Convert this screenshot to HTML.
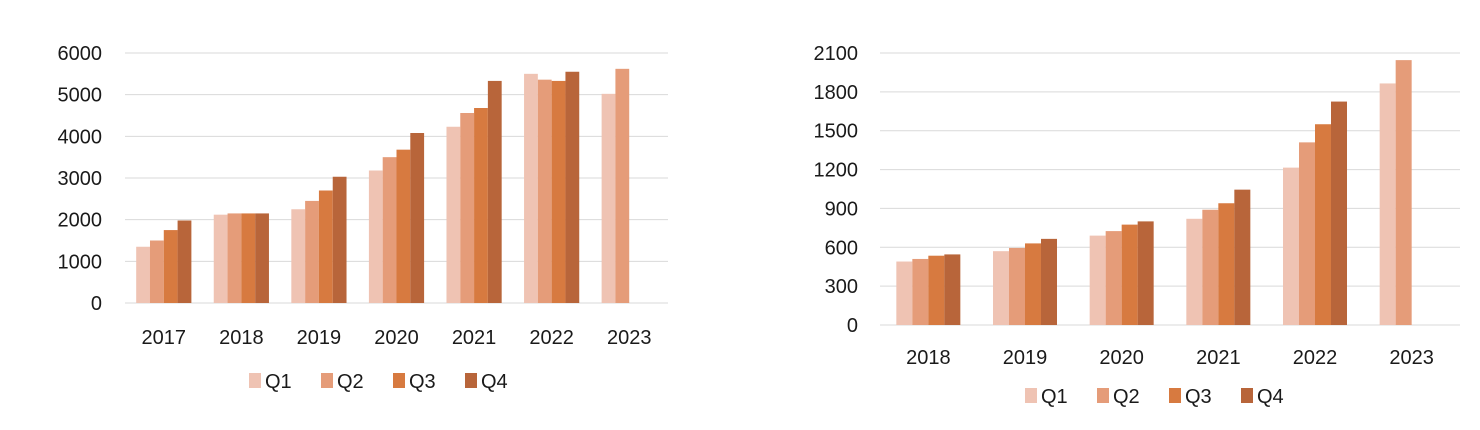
<!DOCTYPE html>
<html><head><meta charset="utf-8">
<style>
body{margin:0;background:#fff;width:1480px;height:425px;overflow:hidden}
svg{font-family:"Liberation Sans",sans-serif;}
text{fill:#1a1a1a;font-size:20px}
</style></head><body>
<svg id="svg" width="1480" height="425"></svg>
<script>
const colors=["#efc3b3","#e59c79","#d77a40","#b8653a"];
const seriesNames=["Q1","Q2","Q3","Q4"];
const catsA=["2017","2018","2019","2020","2021","2022","2023"];
const q1A=[1350,2120,2250,3180,4230,5500,5020];
const q2A=[1500,2150,2450,3500,4560,5360,5620];
const q3A=[1750,2150,2700,3680,4680,5330,null];
const q4A=[1980,2150,3030,4080,5330,5550,null];
const ticksA=[0,1000,2000,3000,4000,5000,6000];
const catsB=["2018","2019","2020","2021","2022","2023"];
const q1B=[490,570,690,820,1215,1865];
const q2B=[510,595,725,890,1410,2045];
const q3B=[535,630,775,940,1550,null];
const q4B=[545,665,800,1045,1725,null];
const ticksB=[0,300,600,900,1200,1500,1800,2100];
const NS="http://www.w3.org/2000/svg";
const svg=document.getElementById('svg');
function mk(tag,attrs,parent){const e=document.createElementNS(NS,tag);for(const k in attrs)e.setAttribute(k,attrs[k]);(parent||svg).appendChild(e);return e;}
function chart(cfg){
  const g=mk('g',{});
  
  
  const max=cfg.ticks[cfg.ticks.length-1];
  const y=v=>cfg.y0-(v/max)*(cfg.y0-cfg.y1);
  const bw=(cfg.x1-cfg.x0)/cfg.cats.length;
  cfg.ticks.forEach(t=>{
    const l=mk('line',{x1:cfg.x0,x2:cfg.x1,y1:y(t),y2:y(t),stroke:'#d9d9d9','stroke-width':1},g);
    
    
    const tx=mk('text',{x:cfg.labelX,y:y(t)+7,'text-anchor':'end'},g);
    tx.textContent=t;
    
    
  });
  const series=[cfg.q1,cfg.q2,cfg.q3,cfg.q4];
  cfg.cats.forEach((c,i)=>{
    const cx=cfg.x0+bw*(i+0.5);
    series.forEach((s,j)=>{
      const v=s[i]; if(v==null)return;
      const x=cx-2*cfg.barW+j*cfg.barW;
      const r=mk('rect',{x:x,y:y(v),width:cfg.barW,height:cfg.y0-y(v),fill:colors[j]},g);
      
      
    });
    const tx=mk('text',{x:cx,y:cfg.xLabelY,'text-anchor':'middle'},g);
    tx.textContent=c;
    
    
  });
  seriesNames.forEach((n,j)=>{
    const lx=cfg.legX+j*72;
    const r=mk('rect',{x:lx,y:cfg.legY-15,width:12,height:15,fill:colors[j]},g);
    
    
    const t=mk('text',{x:lx+16,y:cfg.legY},g);
    t.textContent=n;
    
    
  });
}
chart({name:'chart-left',cats:catsA,q1:q1A,q2:q2A,q3:q3A,q4:q4A,ticks:ticksA,x0:125,x1:668,y0:303,y1:53,barW:13.8,labelX:102,xLabelY:344,legX:249,legY:388});
chart({name:'chart-right',cats:catsB,q1:q1B,q2:q2B,q3:q3B,q4:q4B,ticks:ticksB,x0:880,x1:1460,y0:325,y1:53,barW:16,labelX:858,xLabelY:364,legX:1025,legY:403});
</script>
</body></html>
